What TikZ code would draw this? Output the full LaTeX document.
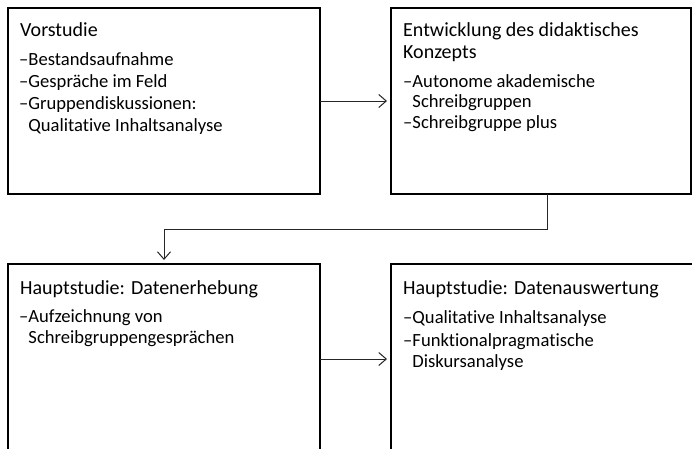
\documentclass[tikz,border=0pt]{standalone}
\usepackage{fontspec}
\setmainfont[Ligatures=NoCommon]{Carlito}
\usetikzlibrary{arrows.meta}
\begin{document}
\begin{tikzpicture}[x=1pt,y=-1pt,
  box/.style={draw=black, line width=2pt, anchor=north west, inner sep=0pt, outer sep=0pt},
  ttl/.style={anchor=base west, inner sep=0pt, font=\fontsize{20}{22}\selectfont},
  itm/.style={anchor=base west, inner sep=0pt, font=\fontsize{18.6}{22}\selectfont},
  conn/.style={draw=black!85, line width=1pt, -{Straight Barb[length=7.5pt,width=13pt,line width=1pt]}, shorten >=4pt}]
\useasboundingbox (0,0) rectangle (692,448);
\fill[white] (0,0) rectangle (692,448);
% boxes
\node[box, minimum width=312pt, minimum height=186pt] (b1) at (8,8) {};
\node[box, minimum width=300pt, minimum height=186pt] (b2) at (391,8) {};
\node[box, minimum width=312pt, minimum height=190pt] (b3) at (8,264) {};
\node[box, minimum width=312pt, minimum height=190pt] (b4) at (391,264) {};
% box 1
\node[ttl] (t1) at (20,36.5) {Vorstudie};
\node[itm] (t1a) at (19,65) {–Bestandsaufnahme};
\node[itm] (t1b) at (19,87.5) {–Gespräche im Feld};
\node[itm] (t1c) at (19,109.5) {–Gruppendiskussionen:};
\node[itm] (t1d) at (19,131.5) {\phantom{–}Qualitative Inhaltsanalyse};
% box 2
\node[ttl] (t2) at (403,36) {Entwicklung des didaktisches};
\node[ttl] (t2x) at (403,58) {Konzepts};
\node[itm] (t2a) at (403,87) {–Autonome akademische};
\node[itm] (t2b) at (403,107.5) {\phantom{–}Schreibgruppen};
\node[itm] (t2c) at (403,128.5) {–Schreibgruppe plus};
% box 3
\node[ttl] (t3) at (20,294) {Hauptstudie: Datenerhebung};
\node[itm] (t3a) at (19,322) {–Aufzeichnung von};
\node[itm] (t3b) at (19,343.5) {\phantom{–}Schreibgruppengesprächen};
% box 4
\node[ttl] (t4) at (403,294) {Hauptstudie: Datenauswertung};
\node[itm] (t4a) at (403,323) {–Qualitative Inhaltsanalyse};
\node[itm] (t4b) at (403,346) {–Funktionalpragmatische};
\node[itm] (t4c) at (403,367) {\phantom{–}Diskursanalyse};
% connectors
\coordinate (turn) at (164,229);
\draw[conn] (b1.east) -- (b2.west);
\draw[conn] ([xshift=6pt]b2.south) |- (turn) -- (b3.north);
\draw[conn] (b3.east) -- (b4.west);
\end{tikzpicture}
\end{document}
